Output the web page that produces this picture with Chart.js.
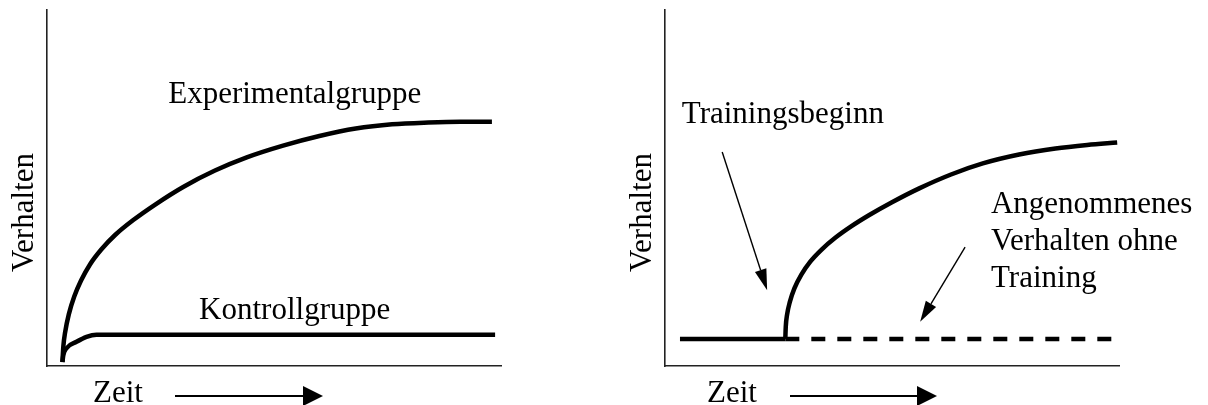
<!DOCTYPE html>
<html>
<head>
<meta charset="utf-8">
<script src="https://cdn.jsdelivr.net/npm/chart.js@4.4.1/dist/chart.umd.min.js"></script>
<style>
  body { margin: 0; background: #fff; }
  .panel { position: absolute; top: 0; width: 604px; height: 405px; }
</style>
</head>
<body>
<div class="panel" style="left:0"><canvas id="chartLeft" width="604" height="405"></canvas></div>
<div class="panel" style="left:604px"><canvas id="chartRight" width="604" height="405"></canvas></div>
<script>
// Axis titles
const yTitle = 'Verhalten';
const xTitle = 'Zeit';

// Left panel: Experimentalgruppe vs. Kontrollgruppe (x = Zeit 0-100, y = Verhalten 0-100)
const expX = [3.4, 3.6, 4.0, 4.8, 6.0, 7.5, 9.5, 12.0, 15.0, 19.0, 24.0, 30.0, 37.0, 44.0, 52.0, 60.0, 68.0, 76.0, 84.0, 91.0, 98.0];
const expY = [1.1, 5.5, 9.5, 14.5, 19.5, 24.0, 28.6, 32.8, 36.8, 41.0, 45.5, 50.3, 54.9, 58.6, 61.9, 64.6, 66.7, 67.9, 68.4, 68.6, 68.6];
const ctrlX = [3.4, 3.6, 4.3, 6.5, 8.7, 10.9, 98.7];
const ctrlY = [1.1, 3.1, 5.0, 6.8, 8.2, 8.8, 8.8];

// Right panel: before training, with training, assumed behaviour without training
const baseX = [3.3, 26.5];
const baseY = [7.6, 7.6];
const trainX = [26.5, 26.6, 26.9, 27.5, 28.5, 30.0, 32.0, 34.5, 37.5, 41.0, 45.0, 50.0, 56.0, 63.0, 70.0, 78.0, 86.0, 93.0, 99.6];
const trainY = [7.6, 11.0, 14.5, 18.0, 21.8, 25.6, 29.3, 32.7, 36.0, 39.2, 42.4, 46.0, 49.9, 53.8, 56.9, 59.4, 61.1, 62.1, 62.8];
const noTrainX = [26.5, 99.6];
const noTrainY = [7.6, 7.6];

const FONT = '31px "Liberation Serif", "Times New Roman", serif';

function toPoints(xs, ys) {
    return xs.map((x, i) => ({ x: x, y: ys[i] }));
}

function lineSet(label, xs, ys, dash) {
    return {
        label: label,
        data: toPoints(xs, ys),
        borderColor: '#000',
        borderWidth: 4.5,
        borderDash: dash || [],
        borderCapStyle: 'butt',
        pointRadius: 0,
        fill: false,
        cubicInterpolationMode: 'monotone',
        clip: false
    };
}

function drawArrow(ctx, x1, y1, x2, y2, width, headLen, headHalf) {
    const ang = Math.atan2(y2 - y1, x2 - x1);
    const bx = x2 - headLen * Math.cos(ang);
    const by = y2 - headLen * Math.sin(ang);
    ctx.lineWidth = width;
    ctx.beginPath();
    ctx.moveTo(x1, y1);
    ctx.lineTo(bx, by);
    ctx.stroke();
    ctx.beginPath();
    ctx.moveTo(x2, y2);
    ctx.lineTo(bx + headHalf * Math.sin(ang), by - headHalf * Math.cos(ang));
    ctx.lineTo(bx - headHalf * Math.sin(ang), by + headHalf * Math.cos(ang));
    ctx.closePath();
    ctx.fill();
}

// Draws axis titles, the time arrow and the text notes
const sketchPlugin = {
    id: 'sketch',
    afterDraw(chart, args, opts) {
        const { ctx, chartArea: area, scales } = chart;
        ctx.save();
        ctx.fillStyle = '#000';
        ctx.strokeStyle = '#000';
        ctx.font = FONT;
        ctx.textBaseline = 'alphabetic';

        // y title, rotated
        ctx.save();
        ctx.translate(area.left - 14, area.top + 202.5);
        ctx.rotate(-Math.PI / 2);
        ctx.textAlign = 'center';
        ctx.fillText(yTitle, 0, 0);
        ctx.restore();

        // x title with arrow
        ctx.textAlign = 'left';
        ctx.fillText(xTitle, area.left + opts.zeitDx, area.bottom + 36);
        drawArrow(ctx, area.left + opts.arrowFrom, area.bottom + 30, area.left + opts.arrowTo, area.bottom + 30, 1.8, 20, 10);

        // notes
        (opts.notes || []).forEach(n => {
            const px = scales.x.getPixelForValue(n.x);
            const py = scales.y.getPixelForValue(n.y);
            n.lines.forEach((t, i) => ctx.fillText(t, px, py + i * 37));
        });

        // pointer arrows
        (opts.pointers || []).forEach(p => {
            drawArrow(ctx,
                scales.x.getPixelForValue(p.from[0]), scales.y.getPixelForValue(p.from[1]),
                scales.x.getPixelForValue(p.to[0]), scales.y.getPixelForValue(p.to[1]),
                1.4, 21, 6);
        });
        ctx.restore();
    }
};

function axisOptions() {
    const common = {
        type: 'linear',
        min: 0,
        max: 100,
        ticks: { display: false },
        grid: { display: false, drawTicks: false },
        border: { display: true, color: '#222', width: 1.6 },
        title: { display: false }
    };
    return {
        x: Object.assign({ position: 'bottom' }, common),
        y: Object.assign({ position: 'left' }, JSON.parse(JSON.stringify(common)))
    };
}

function makeChart(id, datasets, padding, sketchOpts) {
    const scales = axisOptions();
    scales.x.ticks = { display: false };
    return new Chart(document.getElementById(id), {
        type: 'line',
        data: { datasets: datasets },
        options: {
            responsive: false,
            animation: false,
            events: [],
            layout: { padding: padding },
            scales: scales,
            plugins: {
                legend: { display: false },
                tooltip: { enabled: false },
                sketch: sketchOpts
            }
        },
        plugins: [sketchPlugin]
    });
}

makeChart('chartLeft', [
    lineSet('Experimentalgruppe', expX, expY),
    lineSet('Kontrollgruppe', ctrlX, ctrlY)
], { left: 47, right: 103, top: 10, bottom: 39 }, {
    zeitDx: 46,
    arrowFrom: 128,
    arrowTo: 276,
    notes: [
        { lines: ['Experimentalgruppe'], x: 26.7, y: 73.9 },
        { lines: ['Kontrollgruppe'], x: 33.5, y: 13.2 }
    ]
});

makeChart('chartRight', [
    lineSet('Vor Training', baseX, baseY),
    lineSet('Angenommenes Verhalten ohne Training', noTrainX, noTrainY, [14, 12]),
    lineSet('Mit Training', trainX, trainY)
], { left: 61, right: 89, top: 10, bottom: 39 }, {
    zeitDx: 42,
    arrowFrom: 125,
    arrowTo: 272,
    notes: [
        { lines: ['Trainingsbeginn'], x: 3.7, y: 68.3 },
        { lines: ['Angenommenes', 'Verhalten ohne', 'Training'], x: 71.8, y: 43.0 }
    ],
    pointers: [
        { from: [12.6, 60.1], to: [22.5, 21.3] },
        { from: [66.1, 33.4], to: [56.2, 12.4] }
    ]
});
</script>
</body>
</html>
